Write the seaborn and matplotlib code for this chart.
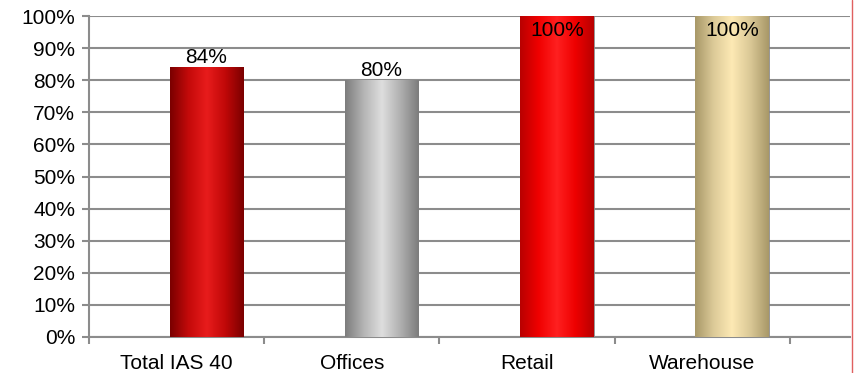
import matplotlib
matplotlib.use("Agg")
import matplotlib.pyplot as plt
import seaborn as sns
import numpy as np
from matplotlib.colors import LinearSegmentedColormap
from matplotlib.ticker import PercentFormatter, FixedLocator
from matplotlib.lines import Line2D

categories = ["Total IAS 40", "Offices", "Retail", "Warehouse"]
values = [0.84, 0.80, 1.00, 1.00]
labels = ["84%", "80%", "100%", "100%"]
# cylinder shading: edge, middle, highlight
shades = [
    ["#7a0000", "#c40a0a", "#e81c1c", "#c00808", "#7a0000"],
    ["#7c7c7c", "#b4b4b4", "#dedede", "#b0b0b0", "#7c7c7c"],
    ["#b80000", "#f00000", "#ff2020", "#ee0000", "#b80000"],
    ["#a89868", "#dcca98", "#fde9b4", "#dac896", "#a89868"],
]

sns.set_theme(style="white")
plt.rcParams["font.family"] = ["Liberation Sans", "DejaVu Sans"]

fig = plt.figure(figsize=(8.55, 3.73), dpi=100)
ax = fig.add_axes([89 / 855, 36 / 373, (850 - 89) / 855, 321 / 373])

sns.barplot(x=categories, y=values, color="#cccccc", width=0.42, ax=ax, zorder=2)

# gradient fill, bars sit a little right of category centre
for patch, cols in zip(ax.patches, shades):
    patch.set_x(patch.get_x() + 0.17)
    x0, y0 = patch.get_x(), patch.get_y()
    w, h = patch.get_width(), patch.get_height()
    cmap = LinearSegmentedColormap.from_list("cyl", cols)
    grad = np.linspace(0, 1, 256).reshape(1, -1)
    im = ax.imshow(grad, cmap=cmap, extent=[x0, x0 + w, y0, y0 + h],
                   aspect="auto", zorder=3)
    im.set_clip_path(patch)
    patch.set_edgecolor("#777777")
    patch.set_linewidth(0.5)

fs = 15
for patch, lab, v in zip(ax.patches, labels, values):
    cx = patch.get_x() + patch.get_width() / 2
    if v >= 1.0:
        ax.text(cx, v - 0.015, lab, ha="center", va="top", fontsize=fs, color="black", zorder=5)
    else:
        ax.text(cx, v + 0.002, lab, ha="center", va="bottom", fontsize=fs, color="black", zorder=5)

ax.set_xlim(-0.5, 3.843)
ax.set_ylim(0, 1.0)
ax.yaxis.set_major_locator(FixedLocator(np.arange(0, 1.01, 0.1)))
ax.yaxis.set_major_formatter(PercentFormatter(1.0, decimals=0))
ax.xaxis.set_minor_locator(FixedLocator([-0.5, 0.5, 1.5, 2.5, 3.5]))

ax.grid(axis="y", color="#8c8c8c", linewidth=1.5, zorder=1)
ax.set_axisbelow(True)
for s in ["top", "right"]:
    ax.spines[s].set_visible(False)
for s in ["left", "bottom"]:
    ax.spines[s].set_color("#8c8c8c")
    ax.spines[s].set_linewidth(1.5)

ax.tick_params(axis="y", which="major", left=True, length=5, width=1.5, color="#8c8c8c",
               labelsize=fs, labelcolor="black", pad=5)
ax.tick_params(axis="x", which="major", bottom=False, labelsize=fs, labelcolor="black", pad=6)
ax.tick_params(axis="x", which="minor", bottom=True, length=5, width=1.5, color="#8c8c8c")
ax.set_xlabel("")
ax.set_ylabel("")

fig.add_artist(Line2D([851.5 / 855, 851.5 / 855], [0, 1], color="#e06060", linewidth=1.0))

fig.savefig("out.png", dpi=100)
